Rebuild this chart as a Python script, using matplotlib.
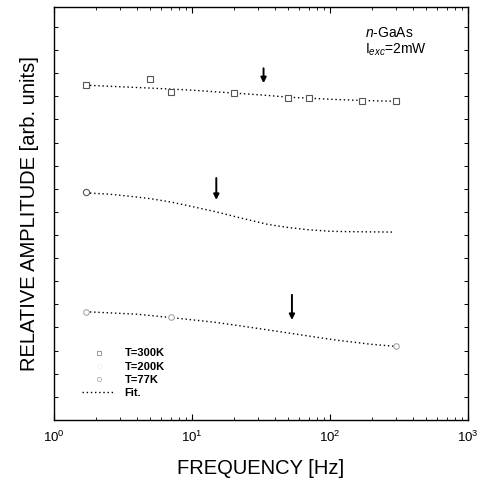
import matplotlib
matplotlib.use("Agg")
import matplotlib.pyplot as plt
from matplotlib.lines import Line2D
from matplotlib.ticker import LogLocator, MultipleLocator, NullFormatter

plt.rcParams['font.family'] = ['Liberation Sans', 'DejaVu Sans']
plt.rcParams['mathtext.fontset'] = 'custom'
plt.rcParams['mathtext.rm'] = 'Liberation Sans'
plt.rcParams['mathtext.it'] = 'Liberation Sans:italic'

# measured points (frequency in Hz, relative amplitude in arb. units)
f_300 = [1.7, 5, 7, 20, 50, 70, 170, 300]
a_300 = [0.811, 0.826, 0.794, 0.792, 0.780, 0.780, 0.772, 0.772]
f_200 = [1.7]
a_200 = [0.551]
f_77 = [1.7, 7, 300]
a_77 = [0.262, 0.250, 0.178]

# fit curves
fit_f_300 = [1.7, 5, 10, 20, 33, 50, 100, 170, 300]
fit_a_300 = [0.811, 0.804, 0.799, 0.792, 0.787, 0.782, 0.777, 0.774, 0.772]
fit_f_200 = [1.7, 2.5, 3.5, 5, 7, 10, 15, 22, 35, 50, 68, 100, 140, 290]
fit_a_200 = [0.550, 0.547, 0.542, 0.536, 0.528, 0.517, 0.504, 0.490, 0.474, 0.466,
             0.461, 0.457, 0.456, 0.455]
fit_f_77 = [1.7, 4, 7, 15, 28, 51, 112, 200, 300]
fit_a_77 = [0.262, 0.256, 0.248, 0.236, 0.223, 0.210, 0.193, 0.183, 0.178]

# arrows marking the characteristic frequencies
arrow_f = [33, 15, 53]
arrow_top = [0.852, 0.586, 0.303]
arrow_tip = [0.816, 0.533, 0.242]

fig = plt.figure(figsize=(4.78, 4.82), dpi=100)
ax = fig.add_axes([0.113, 0.129, 0.866, 0.856])

for ff, aa in [(fit_f_300, fit_a_300), (fit_f_200, fit_a_200), (fit_f_77, fit_a_77)]:
    ax.plot(ff, aa, linestyle=(0, (1, 2)), color='black', lw=1.0)

ax.plot(f_300, a_300, 's', ms=4.5, mfc='white', mec='#555555', mew=0.8)
ax.plot(f_200, a_200, 'o', ms=4.5, mfc='white', mec='#555555', mew=0.8)
ax.plot(f_77, a_77, 'o', ms=4, mfc='white', mec='#999999', mew=0.7)

for xf, y0, y1 in zip(arrow_f, arrow_top, arrow_tip):
    ax.annotate('', xy=(xf, y1), xytext=(xf, y0),
                arrowprops=dict(arrowstyle='-|>', color='black', lw=1.4,
                                mutation_scale=8, shrinkA=0, shrinkB=0))

ax.text(0.751, 0.937, r'$n$-GaAs', transform=ax.transAxes, fontsize=10, va='center')
ax.text(0.751, 0.896, r'I$_{exc}$=2mW', transform=ax.transAxes, fontsize=10, va='center')

handles = [
    Line2D([], [], ls='none', marker='s', ms=3, mfc='white', mec='#888888', mew=0.6),
    Line2D([], [], ls='none', marker='o', ms=3, mfc='white', mec='#eeeeee', mew=0.5),
    Line2D([], [], ls='none', marker='o', ms=3, mfc='white', mec='#aaaaaa', mew=0.6),
    Line2D([], [], linestyle=(0, (1, 2)), color='black', lw=1.0),
]
labels = ['T=300K', 'T=200K', 'T=77K', 'Fit.']
leg = ax.legend(handles, labels, loc='upper left', bbox_to_anchor=(0.068, 0.173),
                frameon=False, borderpad=0, borderaxespad=0, handlelength=3.0,
                handletextpad=0.8, labelspacing=0.28,
                prop={'size': 8, 'weight': 'bold'})

ax.set_xscale('log')
ax.set_xlim(1, 1000)
ax.set_ylim(0, 1)
ax.xaxis.set_major_locator(LogLocator(base=10, numticks=10))
ax.xaxis.set_minor_locator(LogLocator(base=10, subs=range(2, 10), numticks=20))
ax.xaxis.set_minor_formatter(NullFormatter())
ax.yaxis.set_major_locator(MultipleLocator(0.056))
ax.set_yticklabels([])
ax.tick_params(which='both', direction='in', top=True, right=True)
ax.tick_params(which='major', length=4, width=0.8, labelsize=9.5, pad=7)
ax.tick_params(axis='y', which='major', length=3, width=0.7)
ax.tick_params(which='minor', length=2, width=0.6)
for s in ax.spines.values():
    s.set_linewidth(1.0)

ax.set_xlabel('FREQUENCY [Hz]', fontsize=14.5, labelpad=10)
ax.set_ylabel('RELATIVE AMPLITUDE [arb. units]', fontsize=14.5, labelpad=4)

fig.savefig('out.png', dpi=100)
